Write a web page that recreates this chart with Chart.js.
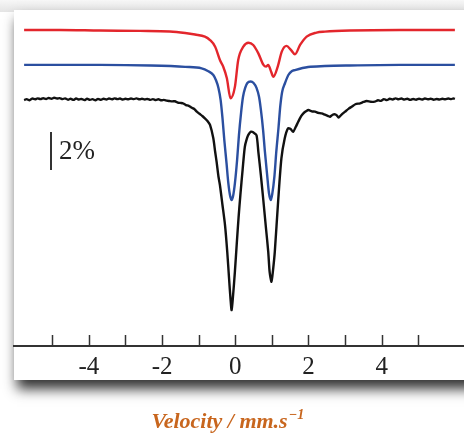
<!DOCTYPE html>
<html>
<head>
<meta charset="utf-8">
<script src="https://cdn.jsdelivr.net/npm/chart.js@4"></script>
<style>
  body { margin: 0; background: #ffffff; }
  canvas { display: block; }
</style>
</head>
<body>
<canvas id="mossbauer" width="464" height="434"></canvas>
<script>
// velocity (mm/s) and relative transmission (%)
const redV = [-5.77, -4.79, -3.70, -2.61, -1.79, -1.37, -1.10, -0.83, -0.69, -0.55, -0.42, -0.33, -0.23, -0.13,
  -0.01, 0.08, 0.22, 0.36, 0.49, 0.63, 0.77, 0.84, 0.90, 0.98, 1.04, 1.16, 1.27, 1.40, 1.52, 1.63, 1.77, 1.95,
  2.22, 2.45, 3.13, 4.50, 6.00];
const redT = [3.66, 3.66, 3.63, 3.61, 3.58, 3.50, 3.42, 3.31, 3.13, 2.78, 2.08, 1.73, 1.12, 0.06,
  0.67, 2.08, 2.78, 2.99, 2.87, 2.43, 1.82, 1.73, 1.82, 1.46, 1.20, 1.73, 2.52, 2.82, 2.61, 2.38, 2.87, 3.31,
  3.52, 3.57, 3.63, 3.66, 3.66];

const blueV = [-5.77, -3.70, -2.33, -1.37, -0.92, -0.75, -0.60, -0.53, -0.46, -0.40, -0.35, -0.30, -0.24, -0.19,
  -0.14, -0.10, -0.06, -0.01, 0.05, 0.10, 0.16, 0.21, 0.27, 0.33, 0.42, 0.50, 0.58, 0.65, 0.70, 0.76, 0.81,
  0.87, 0.92, 0.97, 1.01, 1.07, 1.12, 1.18, 1.23, 1.28, 1.36, 1.45, 1.55, 1.63, 1.99, 2.45, 3.13, 4.50, 6.00];
const blueT = [1.82, 1.82, 1.79, 1.72, 1.64, 1.50, 1.29, 1.03, 0.61, -0.03, -0.97, -2.13, -3.34, -4.40,
  -5.08, -5.29, -5.08, -4.40, -3.18, -1.87, -0.66, 0.13, 0.61, 0.87, 0.95, 0.87, 0.61, 0.13, -0.55, -1.61, -2.76,
  -3.97, -4.92, -5.29, -4.97, -4.03, -2.76, -1.50, -0.34, 0.40, 0.87, 1.29, 1.50, 1.55, 1.71, 1.76, 1.79, 1.82, 1.82];

const blackV = [-5.77, -5.70, -5.62, -5.55, -5.47, -5.40, -5.32, -5.25, -5.17, -5.10, -5.02, -4.95, -4.87, -4.80,
  -4.72, -4.65, -4.57, -4.50, -4.42, -4.35, -4.27, -4.20, -4.12, -4.05, -3.97, -3.90, -3.82, -3.75, -3.67, -3.60,
  -3.52, -3.45, -3.37, -3.30, -3.22, -3.15, -3.07, -3.00, -2.92, -2.85, -2.77, -2.70, -2.62, -2.55, -2.47, -2.40,
  -2.32, -2.25, -2.17, -2.10, -2.02, -1.95, -1.87, -1.80, -1.72, -1.65, -1.57, -1.50, -1.42, -1.35, -1.27, -1.20,
  -1.12, -1.05, -0.98, -0.90, -0.83, -0.76, -0.69, -0.60, -0.55, -0.51, -0.46, -0.42, -0.35, -0.28, -0.22, -0.17,
  -0.13, -0.10, -0.06, -0.01, 0.04, 0.09, 0.14, 0.20, 0.26, 0.31, 0.36, 0.43, 0.50, 0.58, 0.63, 0.70, 0.77, 0.84, 0.90,
  0.94, 0.99, 1.03, 1.08, 1.17, 1.26, 1.35, 1.44, 1.51, 1.58, 1.65, 1.72, 1.80, 1.86, 1.93, 2.00, 2.09, 2.18,
  2.27, 2.36, 2.45, 2.54, 2.59, 2.66, 2.73, 2.78, 2.82, 2.89, 3.00, 3.10, 3.18, 3.28, 3.41, 3.50, 3.59, 3.70,
  3.81, 3.90, 3.98, 4.06, 4.14, 4.22, 4.30, 4.38, 4.46, 4.54, 4.62, 4.70, 4.78, 4.86, 4.94, 5.02, 5.10, 5.18,
  5.26, 5.34, 5.42, 5.50, 5.58, 5.66, 5.74, 5.82, 5.90, 5.96, 6.00];
const blackT = [-0.03, 0.02, -0.04, 0.05, 0.01, 0.06, 0.02, 0.07, 0.03, 0.08, 0.04, 0.09, 0.05, 0.07,
  0.02, 0.06, -0.01, 0.04, -0.02, 0.05, 0.00, 0.03, -0.03, 0.04, -0.02, 0.02, -0.04, 0.03, -0.02, 0.04,
  0.00, 0.05, 0.01, 0.06, 0.02, 0.05, 0.00, 0.04, 0.01, 0.05, 0.02, 0.06, 0.01, 0.04, 0.00, 0.03,
  -0.02, 0.02, -0.03, 0.01, -0.04, -0.02, -0.06, -0.08, -0.10, -0.09, -0.16, -0.18, -0.21, -0.29, -0.33, -0.42,
  -0.50, -0.64, -0.75, -0.87, -0.99, -1.13, -1.34, -2.04, -2.75, -3.28, -4.05, -4.50, -5.55, -6.62, -8.00, -9.42,
  -10.50, -11.08, -10.30, -9.04, -7.60, -6.20, -5.00, -3.70, -2.50, -2.10, -1.85, -1.69, -1.74, -1.88, -2.75, -4.00, -5.38, -6.80, -8.00,
  -9.10, -9.59, -9.00, -8.00, -5.38, -3.10, -2.05, -1.52, -1.55, -1.70, -1.45, -1.17, -0.88, -0.73, -0.62, -0.55, -0.62, -0.64,
  -0.70, -0.73, -0.80, -0.87, -0.91, -0.80, -0.78, -0.85, -0.95, -0.82, -0.64, -0.48, -0.38, -0.25, -0.20, -0.13, -0.08, -0.12,
  -0.11, -0.04, -0.07, 0.02, -0.03, 0.04, 0.00, 0.06, 0.01, 0.05, 0.00, 0.04, -0.02, 0.03, -0.01, 0.04, 0.00, 0.05,
  0.01, 0.04, -0.01, 0.03, 0.00, 0.04, 0.01, 0.05, 0.02, 0.06, 0.03];

// "2%" scale bar
const barV = [-5.035, -5.035];
const barT = [-1.71, -3.71];
const barLabel = "2%";

const tickValues = [-5, -4, -3, -2, -1, 0, 1, 2, 3, 4, 5];
const tickLabels = ["-4", "-2", "0", "2", "4"];
const xTitle = "Velocity / mm.s";
const xTitleUnitPower = "\u22121";

function toPoints(xs, ys) {
  return xs.map((x, i) => ({ x: x, y: ys[i] }));
}

// panel background with drop shadow, inward ticks, labels
const panelPlugin = {
  id: "panel",
  beforeDraw(chart) {
    const ctx = chart.ctx;
    ctx.save();
    ctx.fillStyle = "#ffffff";
    ctx.fillRect(0, 0, chart.width, chart.height);
    const g = ctx.createLinearGradient(0, 0, 0, 12);
    g.addColorStop(0, "#f7f7f7");
    g.addColorStop(1, "#e4e4e4");
    ctx.fillStyle = g;
    ctx.fillRect(0, 0, chart.width, 12);
    ctx.shadowColor = "rgba(0,0,0,0.8)";
    ctx.shadowBlur = 12;
    ctx.shadowOffsetX = 3;
    ctx.shadowOffsetY = 9;
    ctx.fillStyle = "#ffffff";
    ctx.fillRect(14, 10, chart.width + 20, 370);
    ctx.restore();
  },
  afterDraw(chart) {
    const ctx = chart.ctx;
    const x = chart.scales.x;
    const y = chart.scales.y;
    ctx.save();
    // inward tick marks
    ctx.strokeStyle = "#333333";
    ctx.lineWidth = 1.5;
    tickValues.forEach(v => {
      const px = Math.round(x.getPixelForValue(v)) + 0.5;
      ctx.beginPath();
      ctx.moveTo(px, x.top - 11);
      ctx.lineTo(px, x.top);
      ctx.stroke();
    });
    // scale bar label
    ctx.fillStyle = "#222222";
    ctx.font = "27px 'Liberation Serif'";
    ctx.textBaseline = "middle";
    ctx.fillText(barLabel, x.getPixelForValue(barV[0]) + 8, y.getPixelForValue((barT[0] + barT[1]) / 2) + 1);
    // axis title with superscript unit power
    ctx.fillStyle = "#c8661e";
    const mainFont = "italic bold 22px 'Liberation Serif'";
    const supFont = "italic bold 14px 'Liberation Serif'";
    ctx.font = mainFont;
    const w1 = ctx.measureText(xTitle).width;
    ctx.font = supFont;
    const w2 = ctx.measureText(xTitleUnitPower).width;
    const startX = x.getPixelForValue(0) - 8 - (w1 + w2) / 2;
    ctx.textBaseline = "alphabetic";
    ctx.font = mainFont;
    ctx.fillText(xTitle, startX, 428);
    ctx.font = supFont;
    ctx.fillText(xTitleUnitPower, startX + w1 + 1, 419);
    ctx.restore();
  }
};

const lineStyle = {
  pointRadius: 0,
  borderWidth: 2.4,
  fill: false
};

new Chart(document.getElementById("mossbauer"), {
  type: "line",
  data: {
    datasets: [
      { ...lineStyle, label: "fit 1", data: toPoints(redV, redT), borderColor: "#e3262c", cubicInterpolationMode: "monotone" },
      { ...lineStyle, label: "fit 2", data: toPoints(blueV, blueT), borderColor: "#2b4fa0", cubicInterpolationMode: "monotone" },
      { ...lineStyle, label: "data", data: toPoints(blackV, blackT), borderColor: "#111111", tension: 0.25 },
      { ...lineStyle, label: "bar", data: toPoints(barV, barT), borderColor: "#333333", borderWidth: 2 }
    ]
  },
  options: {
    responsive: false,
    animation: false,
    layout: { padding: { left: 14, top: 10, right: 0, bottom: 0 } },
    plugins: {
      legend: { display: false },
      tooltip: { enabled: false }
    },
    scales: {
      x: {
        type: "linear",
        position: "bottom",
        min: -6.046,
        max: 6.249,
        afterFit: function (scale) { scale.height = 88; },
        grid: { display: false },
        border: { display: true, color: "#333333", width: 2 },
        ticks: {
          stepSize: 1,
          autoSkip: false,
          maxRotation: 0,
          padding: -2,
          color: "#222222",
          font: { family: "'Liberation Serif'", size: 25 },
          callback: function (value) {
            const s = String(value);
            return tickLabels.includes(s) ? s : "";
          }
        }
      },
      y: {
        type: "linear",
        display: false,
        min: -12.97,
        max: 4.71
      }
    }
  },
  plugins: [panelPlugin]
});
</script>
</body>
</html>
